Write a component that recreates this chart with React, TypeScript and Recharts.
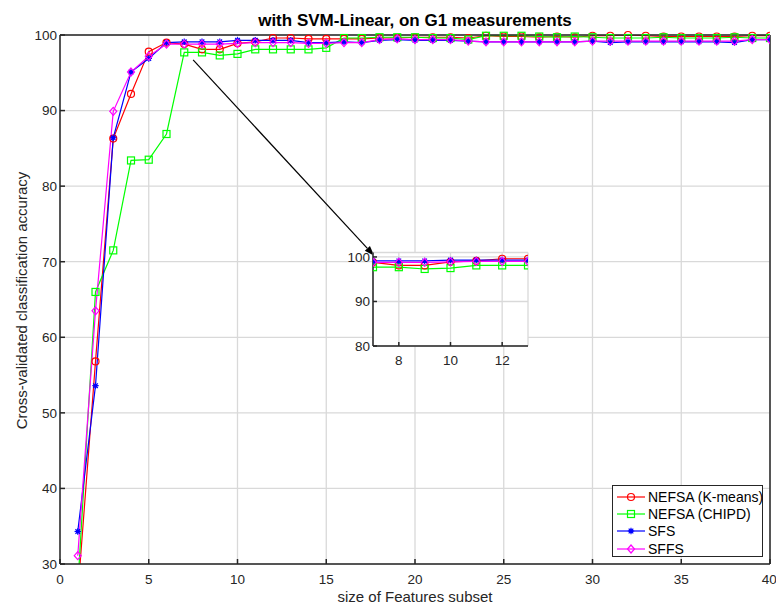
import React from 'react';
import { LineChart, Line, XAxis, YAxis, CartesianGrid, ReferenceLine, Legend } from 'recharts';

// size of feature subset
const featureCounts = [
  1, 2, 3, 4, 5, 6, 7, 8, 9, 10, 11, 12, 13, 14, 15, 16, 17, 18, 19, 20,
  21, 22, 23, 24, 25, 26, 27, 28, 29, 30, 31, 32, 33, 34, 35, 36, 37, 38, 39, 40,
];

// cross-validated accuracy (%) per method
const nefsaKmeans = [
  26, 56.8, 86.3, 92.2, 97.8, 99.0, 98.8, 98.1, 98.1, 98.9, 99.1, 99.6, 99.6, 99.5, 99.5, 99.5, 99.5, 99.6, 99.6, 99.7,
  99.7, 99.7, 99.6, 99.9, 99.8, 99.8, 99.7, 99.8, 99.7, 99.9, 99.9, 100.0, 99.9, 99.8, 99.8, 99.8, 99.8, 99.8, 99.9, 99.9,
];
const nefsaChipd = [
  27, 66.0, 71.5, 83.4, 83.5, 86.9, 97.7, 97.7, 97.3, 97.5, 98.1, 98.1, 98.1, 98.1, 98.3, 99.6, 99.6, 99.7, 99.7, 99.7,
  99.6, 99.6, 99.4, 99.9, 99.9, 99.9, 99.8, 99.7, 99.8, 99.7, 99.6, 99.6, 99.6, 99.7, 99.6, 99.6, 99.6, 99.7, 99.6, 99.6,
];
const sfsAcc = [
  34.3, 53.6, 86.4, 95.1, 96.9, 99.0, 99.1, 99.1, 99.1, 99.3, 99.3, 99.3, 99.3, 99.0, 99.0, 99.1, 99.0, 99.3, 99.4, 99.3,
  99.3, 99.3, 99.2, 99.1, 99.1, 99.1, 99.1, 99.1, 99.1, 99.2, 99.0, 99.1, 99.1, 99.1, 99.1, 99.1, 99.1, 99.0, 99.4, 99.4,
];
const sffsAcc = [
  31.1, 63.5, 89.9, 95.1, 97.2, 98.8, 98.8, 98.8, 98.8, 98.9, 99.0, 99.0, 99.0, 98.9, 98.9, 99.0, 99.0, 99.4, 99.5, 99.4,
  99.4, 99.4, 99.2, 99.1, 99.1, 99.1, 99.1, 99.1, 99.1, 99.2, 99.2, 99.2, 99.2, 99.2, 99.2, 99.2, 99.2, 99.2, 99.4, 99.4,
];

const xTicks = [0, 5, 10, 15, 20, 25, 30, 35, 40];
const yTicks = [30, 40, 50, 60, 70, 80, 90, 100];
const insetXTicks = [8, 10, 12];
const insetYTicks = [80, 90, 100];

const FONT = 'Arial, "Liberation Sans", Helvetica, sans-serif';
const INK = '#262626';
const GRID = '#d9d9d9';

const rows = featureCounts.map((n, i) => ({
  n,
  km: nefsaKmeans[i],
  ch: nefsaChipd[i],
  sfs: sfsAcc[i],
  sffs: sffsAcc[i],
}));
const insetRows = rows.filter((r) => r.n >= 7 && r.n <= 13);

type Kind = 'circle' | 'square' | 'star' | 'diamond';

const series: { key: string; name: string; color: string; kind: Kind }[] = [
  { key: 'km', name: 'NEFSA (K-means)', color: '#ff0000', kind: 'circle' },
  { key: 'ch', name: 'NEFSA (CHIPD)', color: '#00ff00', kind: 'square' },
  { key: 'sfs', name: 'SFS', color: '#0000ff', kind: 'star' },
  { key: 'sffs', name: 'SFFS', color: '#ff00ff', kind: 'diamond' },
];

function Marker({ kind, cx, cy, color }: { kind: Kind; cx: number; cy: number; color: string }) {
  const sw = 1.2;
  if (kind === 'circle') return <circle cx={cx} cy={cy} r={3.5} fill="none" stroke={color} strokeWidth={sw} />;
  if (kind === 'square')
    return <rect x={cx - 3.5} y={cy - 3.5} width={7} height={7} fill="none" stroke={color} strokeWidth={sw} />;
  if (kind === 'diamond')
    return (
      <polygon
        points={`${cx},${cy - 4} ${cx + 3.5},${cy} ${cx},${cy + 4} ${cx - 3.5},${cy}`}
        fill="none"
        stroke={color}
        strokeWidth={sw}
      />
    );
  const d = 3.2;
  const e = 2.3;
  return (
    <g stroke={color} strokeWidth={sw}>
      <line x1={cx - d} y1={cy} x2={cx + d} y2={cy} />
      <line x1={cx} y1={cy - d} x2={cx} y2={cy + d} />
      <line x1={cx - e} y1={cy - e} x2={cx + e} y2={cy + e} />
      <line x1={cx - e} y1={cy + e} x2={cx + e} y2={cy - e} />
      <circle cx={cx} cy={cy} r={1.4} fill={color} />
    </g>
  );
}

const dotFor = (kind: Kind, color: string) => (p: any) => {
  if (p.cx == null || p.cy == null || p.value == null) return <g key={p.key} />;
  return <Marker key={p.key} kind={kind} cx={p.cx} cy={p.cy} color={color} />;
};

const arrowShape = (p: any) => {
  const { x1, y1, x2, y2 } = p;
  const a = Math.atan2(y2 - y1, x2 - x1);
  const len = 10;
  const half = 3.5;
  const bx = x2 - len * Math.cos(a);
  const by = y2 - len * Math.sin(a);
  const nx = -Math.sin(a) * half;
  const ny = Math.cos(a) * half;
  return (
    <g>
      <line x1={x1} y1={y1} x2={bx} y2={by} stroke="#000" strokeWidth={1.2} />
      <polygon points={`${x2},${y2} ${bx + nx},${by + ny} ${bx - nx},${by - ny}`} fill="#000" />
    </g>
  );
};

const renderLegend = () => (
  <div
    style={{
      border: `1px solid ${INK}`,
      background: '#fff',
      boxSizing: 'border-box',
      width: 151,
      height: 72,
      paddingTop: 2,
      fontFamily: FONT,
    }}
  >
    {series.map((s) => (
      <div key={s.key} style={{ display: 'flex', alignItems: 'center', height: 17.3, fontSize: 14, color: '#000' }}>
        <svg width={35} height={12} style={{ flex: 'none' }}>
          <line x1={4} x2={32} y1={6} y2={6} stroke={s.color} strokeWidth={1.2} />
          <Marker kind={s.kind} cx={18} cy={6} color={s.color} />
        </svg>
        <span style={{ whiteSpace: 'nowrap' }}>{s.name}</span>
      </div>
    ))}
  </div>
);

const tickStyle = { fill: INK, fontSize: 13.5, fontFamily: FONT };
const axisStroke = { stroke: INK, strokeWidth: 1.5 };

export default function App() {
  return (
    <div style={{ position: 'absolute', left: 0, top: 0, width: 776, height: 604, background: '#fff', fontFamily: FONT }}>
      <LineChart width={776} height={604} data={rows} margin={{ top: 34, right: 5, bottom: 0, left: 0 }}>
        <CartesianGrid stroke={GRID} strokeWidth={1.3} />
        <XAxis
          dataKey="n"
          type="number"
          domain={[0, 40]}
          ticks={xTicks}
          allowDataOverflow
          height={40}
          axisLine={axisStroke}
          tickLine={axisStroke}
          tickSize={-5}
          tickMargin={15}
          tick={tickStyle}
        />
        <XAxis
          xAxisId="top"
          dataKey="n"
          type="number"
          orientation="top"
          domain={[0, 40]}
          ticks={xTicks}
          allowDataOverflow
          height={1}
          axisLine={axisStroke}
          tickLine={axisStroke}
          tickSize={-5}
          tick={false}
        />
        <YAxis
          type="number"
          domain={[30, 100]}
          ticks={yTicks}
          width={60}
          axisLine={axisStroke}
          tickLine={axisStroke}
          tickSize={-5}
          tickMargin={8}
          tick={tickStyle}
        />
        <YAxis yAxisId="clip" type="number" domain={[30, 100]} allowDataOverflow hide />
        <YAxis
          yAxisId="right"
          orientation="right"
          type="number"
          domain={[30, 100]}
          ticks={yTicks}
          allowDataOverflow
          width={1}
          axisLine={axisStroke}
          tickLine={axisStroke}
          tickSize={-5}
          tick={false}
        />
        {series.map((s) => [
          <Line
            key={s.key + '-line'}
            yAxisId="clip"
            type="linear"
            dataKey={s.key}
            stroke={s.color}
            strokeWidth={1.2}
            dot={false}
            isAnimationActive={false}
          />,
          <Line
            key={s.key + '-marks'}
            type="linear"
            dataKey={(r: any) => (r[s.key] >= 30 ? r[s.key] : null)}
            stroke="none"
            dot={dotFor(s.kind, s.color)}
            activeDot={false}
            legendType="none"
            isAnimationActive={false}
          />,
        ])}
        <ReferenceLine
          segment={[
            { x: 7.5, y: 96.7 },
            { x: 17.7, y: 70.8 },
          ]}
          ifOverflow="visible"
          shape={arrowShape}
        />
        <Legend
          layout="vertical"
          align="center"
          verticalAlign="middle"
          content={renderLegend}
          wrapperStyle={{ position: 'absolute', left: 612, top: 485, width: 151, height: 72 }}
        />
      </LineChart>

      <div style={{ position: 'absolute', left: 330, top: 245, width: 200, height: 125 }}>
        <LineChart width={200} height={125} data={insetRows} margin={{ top: 7.5, right: 2, bottom: 0, left: 0 }}>
          <CartesianGrid stroke={GRID} strokeWidth={1.3} fill="#fff" fillOpacity={1} />
          <XAxis
            dataKey="n"
            type="number"
            domain={[7, 13]}
            ticks={insetXTicks}
            allowDataOverflow
            height={24}
            axisLine={axisStroke}
            tickLine={axisStroke}
            tickSize={-4}
            tickMargin={13}
            tick={tickStyle}
          />
          <YAxis
            type="number"
            domain={[80, 101]}
            ticks={insetYTicks}
            allowDataOverflow
            width={43}
            axisLine={axisStroke}
            tickLine={axisStroke}
            tickSize={-4}
            tickMargin={7}
            tick={tickStyle}
          />
          {series.map((s) => (
            <Line
              key={s.key}
              type="linear"
              dataKey={s.key}
              stroke={s.color}
              strokeWidth={1.2}
              dot={dotFor(s.kind, s.color)}
              activeDot={false}
              isAnimationActive={false}
            />
          ))}
        </LineChart>
      </div>

      <div
        style={{
          position: 'absolute',
          left: 60,
          width: 710,
          top: 11,
          lineHeight: '20px',
          textAlign: 'center',
          fontSize: 17,
          fontWeight: 'bold',
          color: '#000',
        }}
      >
        with SVM-Linear, on G1 measurements
      </div>
      <div
        style={{
          position: 'absolute',
          left: 60,
          width: 710,
          top: 588,
          lineHeight: '17px',
          textAlign: 'center',
          fontSize: 15,
          color: INK,
        }}
      >
        size of Features subset
      </div>
      <div
        style={{
          position: 'absolute',
          left: 21 - 150,
          top: 300 - 8.5,
          width: 300,
          lineHeight: '17px',
          textAlign: 'center',
          fontSize: 15,
          color: INK,
          transform: 'rotate(-90deg)',
          transformOrigin: '150px 8.5px',
        }}
      >
        Cross-validated classification accuracy
      </div>
    </div>
  );
}
